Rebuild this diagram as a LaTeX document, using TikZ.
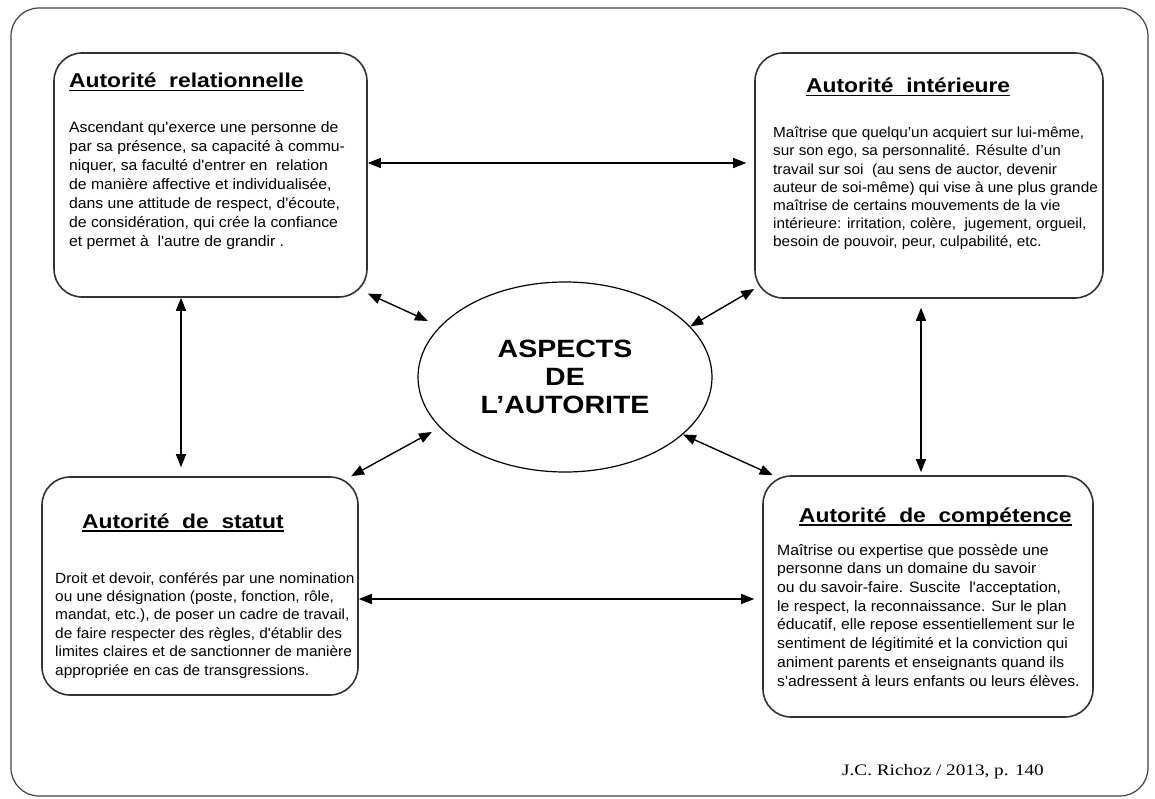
\documentclass[tikz,border=0pt]{standalone}
\usepackage{fontspec}
\usepackage{tikz}
\usetikzlibrary{arrows.meta,shapes.geometric,calc}
\newfontfamily\bodyfont[FakeStretch=1.05]{Liberation Sans}
\newfontfamily\headfont[FakeStretch=1.14]{Liberation Sans}
\newfontfamily\notefont[FakeStretch=1.2]{Liberation Serif}
\newcommand{\boxtitle}[1]{\setbox0\hbox{#1}\rlap{\rule[-3.5pt]{\wd0}{1.3pt}}\box0}

\tikzset{
  box/.style={draw=black!80, line width=1.6pt, rounded corners=28pt, inner sep=0pt},
  heading/.style={anchor=base west, inner sep=0pt, font=\headfont\bfseries\fontsize{20}{24}\selectfont},
  bodytext/.style 2 args={anchor=base west, inner sep=0pt, align=left, font=\bodyfont\fontsize{#1}{#2}\selectfont},
  dbl/.style={{Triangle[length=13pt,width=10pt]}-{Triangle[length=13pt,width=10pt]}, line width=1.4pt}
}

\begin{document}
\begin{tikzpicture}[x=1pt,y=-1pt]
	\useasboundingbox (0,0) rectangle (1155,799);
	\draw[black!75, line width=1.2pt, rounded corners=28pt] (11,8) rectangle (1148,796);

	% the four boxes
	\node[box, minimum width=313pt, minimum height=244pt] (rel) at (210.5,175) {};
	\node[box, minimum width=348pt, minimum height=245pt] (int) at (929,175.5) {};
	\node[box, minimum width=316pt, minimum height=218pt] (stat) at (200,586) {};
	\node[box, minimum width=330pt, minimum height=241pt] (comp) at (928,596.5) {};

	% centre
	\node[ellipse, draw, line width=1.2pt, minimum width=294pt, minimum height=190pt, inner sep=0pt,
	  align=center, font=\headfont\bfseries\fontsize{25}{28}\selectfont] (asp) at (565,377)
	  {ASPECTS\\DE\\L’AUTORITE};

	% titles
	\node[heading] (reltitle) at (69,88) {\boxtitle{Autorité\ \ relationnelle}};
	\node[heading] (inttitle) at (806,93) {\boxtitle{Autorité\ \ intérieure}};
	\node[heading] (stattitle) at (82,528) {\boxtitle{Autorité\ \ de\ \ statut}};
	\node[heading] (comptitle) at (799,522) {\boxtitle{Autorité\ \ de\ \ compétence}};

	% texts (placed by the baseline of their last line)
	\node[bodytext={15}{19}] (reltext) at (69,247) {Ascendant qu'exerce une personne de\\
	  par sa présence, sa capacité à commu-\\
	  niquer, sa faculté d'entrer en\ \ relation\\
	  de manière affective et individualisée,\\
	  dans une attitude de respect, d'écoute,\\
	  de considération, qui crée la confiance\\
	  et permet à\ \ l'autre de grandir .};
	\node[bodytext={14.6}{18.2}] (inttext) at (773,247) {Maîtrise que quelqu’un acquiert sur lui-même,\\
	  sur son ego, sa personnalité. Résulte d’un\\
	  travail sur soi\ \ (au sens de auctor, devenir\\
	  auteur de soi-même) qui vise à une plus grande\\
	  maîtrise de certains mouvements de la vie\\
	  intérieure: irritation, colère,\ \ jugement, orgueil,\\
	  besoin de pouvoir, peur, culpabilité, etc.};
	\node[bodytext={14.7}{18.4}] (stattext) at (55,675) {Droit et devoir, conférés par une nomination\\
	  ou une désignation (poste, fonction, rôle,\\
	  mandat, etc.), de poser un cadre de travail,\\
	  de faire respecter des règles, d'établir des\\
	  limites claires et de sanctionner de manière\\
	  appropriée en cas de transgressions.};
	\node[bodytext={15}{18.7}] (comptext) at (777,686) {Maîtrise ou expertise que possède une\\
	  personne dans un domaine du savoir\\
	  ou du savoir-faire. Suscite\ \ l'acceptation,\\
	  le respect, la reconnaissance. Sur le plan\\
	  éducatif, elle repose essentiellement sur le\\
	  sentiment de légitimité et la conviction qui\\
	  animent parents et enseignants quand ils\\
	  s'adressent à leurs enfants ou leurs élèves.};

	\node[anchor=base west, inner sep=0pt, font=\notefont\fontsize{16}{19}\selectfont] (source) at (842,775)
	  {J.C. Richoz / 2013, p. 140};

	% arrows
	\coordinate (trow) at (0,163);
	\coordinate (brow) at (0,599);
	\coordinate (lcol) at (181,0);
	\coordinate (rcol) at (921,0);
	\draw[dbl, shorten >=8pt] (rel.east |- trow) -- (int.west |- trow);
	\draw[dbl, shorten >=8pt] (stat.east |- brow) -- (comp.west |- brow);
	\draw[dbl, shorten >=9pt] (rel.south -| lcol) -- (stat.north -| lcol);
	\draw[dbl, shorten <=9pt, shorten >=3pt] (int.south -| rcol) -- (comp.north -| rcol);
	\draw[dbl, shorten >=13pt] (rel.-37) -- (asp.158);
	\draw[dbl] (int.213) -- (asp.22.7);
	\draw[dbl, shorten >=9pt] (stat.36.5) -- (asp.202.6);
	\draw[dbl] (asp.-26.2) -- (comp.142.7);
\end{tikzpicture}
\end{document}
